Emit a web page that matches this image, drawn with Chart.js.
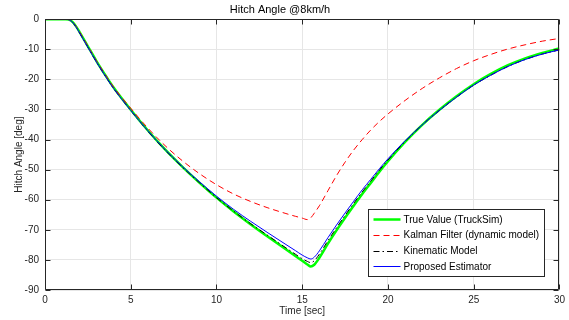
<!DOCTYPE html>
<html>
<head>
<meta charset="utf-8">
<script src="https://cdn.jsdelivr.net/npm/chart.js@4.4.1/dist/chart.umd.min.js"></script>
<style>
  html, body { margin: 0; padding: 0; background: #ffffff; }
  #wrap { width: 569px; height: 320px; }
</style>
</head>
<body>
<div id="wrap"><canvas id="c" width="569" height="320"></canvas></div>
<script>
const time = [0, 1, 1.2, 1.4, 1.6, 1.8, 2, 2.5, 3, 3.6, 4, 5, 6, 7, 8, 9, 10, 11, 12, 13, 14, 14.6, 15, 15.3, 15.5, 15.7, 16, 16.5, 17, 17.5, 18, 18.5, 19, 19.5, 20, 21, 22, 23, 24, 25, 26, 27, 28, 29, 30];
const trueValue = [0, 0, 0, -0.15, -0.9, -2.3, -4.1, -9, -13.9, -19.3, -22.7, -30.1, -37, -43.3, -49, -54.3, -59.3, -63.9, -68.2, -72.3, -76.3, -78.7, -80.3, -81.5, -82.2, -81.6, -79.3, -74.6, -70.2, -66, -62, -58.1, -54.4, -50.7, -47.2, -40.8, -35.1, -30.1, -25.6, -21.6, -18.2, -15.3, -13, -11.2, -9.7];
const kalman = [0, 0, 0, -0.15, -0.9, -2.3, -4.1, -9, -13.9, -19.2, -22.6, -29.6, -36.2, -42, -47, -51.3, -55, -58.1, -60.6, -62.7, -64.5, -65.5, -66.1, -66.6, -66, -64.5, -62, -57, -52, -47.5, -43.5, -40, -36.8, -34, -31.5, -27, -23, -19.5, -16.4, -13.8, -11.7, -9.9, -8.5, -7.3, -6.4];
const kinematic = [0, 0, 0, -0.2, -1.0, -2.5, -4.4, -9.3, -14.2, -19.6, -23, -30.3, -37.2, -43.5, -49.1, -54.3, -59.3, -63.8, -68, -71.9, -75.8, -78.1, -79.6, -80.5, -80.9, -80.3, -78.1, -73.6, -69.3, -65.2, -61.2, -57.4, -53.8, -50.2, -46.8, -40.6, -35.1, -30.3, -25.9, -21.9, -18.6, -15.7, -13.4, -11.6, -10.2];
const proposed = [0, 0, 0, -0.2, -1.0, -2.5, -4.4, -9.3, -14.2, -19.6, -23, -30.3, -37.1, -43.3, -48.9, -54, -58.8, -63.2, -67.2, -71, -74.7, -76.9, -78.4, -79.3, -79.7, -79.1, -77, -72.6, -68.4, -64.4, -60.5, -56.7, -53.2, -49.7, -46.4, -40.4, -35.1, -30.3, -25.9, -21.9, -18.6, -15.7, -13.4, -11.6, -10.2];
const seriesLabels = ['True Value (TruckSim)', 'Kalman Filter (dynamic model)', 'Kinematic Model', 'Proposed Estimator'];
const xTicks = [0, 5, 10, 15, 20, 25, 30];
const yTicks = [-90, -80, -70, -60, -50, -40, -30, -20, -10, 0];

const FONT = '"Liberation Sans", Arial, Helvetica, sans-serif';
const AXIS_COLOR = '#262626';

function pts(arr) { return time.map((t, i) => ({ x: t, y: arr[i] })); }

const matlabAxes = {
  id: 'matlabAxes',
  afterDraw(chart) {
    const { ctx, chartArea: a, scales: { x, y } } = chart;
    ctx.save();
    ctx.strokeStyle = AXIS_COLOR;
    ctx.lineWidth = 1;
    const L = Math.round(a.left) + 0.5, R = Math.round(a.right) - 0.5;
    const T = Math.round(a.top) + 0.5, B = Math.round(a.bottom) - 0.5;
    ctx.beginPath();
    ctx.rect(L, T, R - L, B - T);
    const tl = 5;
    xTicks.forEach(v => {
      const px = Math.round(x.getPixelForValue(v)) + 0.5;
      ctx.moveTo(px, B); ctx.lineTo(px, B - tl);
      ctx.moveTo(px, T); ctx.lineTo(px, T + tl);
    });
    yTicks.forEach(v => {
      const py = Math.round(y.getPixelForValue(v)) + 0.5;
      ctx.moveTo(L, py); ctx.lineTo(L + tl, py);
      ctx.moveTo(R, py); ctx.lineTo(R - tl, py);
    });
    ctx.stroke();

    // legend (MATLAB style, lower right inside axes)
    ctx.font = '10px ' + FONT;
    const ds = chart.data.datasets;
    let maxW = 0;
    ds.forEach(d => { maxW = Math.max(maxW, ctx.measureText(d.label).width); });
    const rowH = 15.7, sample = 27, gap = 3, padL = 5, padR = 5;
    const w = Math.round(padL + sample + gap + maxW + padR);
    const h = Math.round(rowH * ds.length + 4);
    const bx = Math.round(a.right - 15 - w) + 0.5;
    const by = Math.round(a.bottom - 14 - h) + 0.5;
    ctx.fillStyle = '#ffffff';
    ctx.fillRect(bx, by, w, h);
    ctx.strokeStyle = AXIS_COLOR;
    ctx.setLineDash([]);
    ctx.lineWidth = 1;
    ctx.strokeRect(bx, by, w, h);
    ds.forEach((d, i) => {
      const cy = by + 2 + rowH * (i + 0.5);
      ctx.save();
      ctx.strokeStyle = d.borderColor;
      ctx.lineWidth = d.borderWidth;
      ctx.setLineDash(d.borderDash || []);
      ctx.beginPath();
      ctx.moveTo(bx + padL, Math.round(cy) + 0.5);
      ctx.lineTo(bx + padL + sample, Math.round(cy) + 0.5);
      ctx.stroke();
      ctx.restore();
      ctx.fillStyle = '#000000';
      ctx.textBaseline = 'middle';
      ctx.textAlign = 'left';
      ctx.fillText(d.label, bx + padL + sample + gap, cy + 0.5);
    });
    ctx.restore();
  }
};

new Chart(document.getElementById('c'), {
  type: 'line',
  data: {
    datasets: [
      { label: seriesLabels[0], data: pts(trueValue), borderColor: '#00ff00', borderWidth: 2.5, order: 4 },
      { label: seriesLabels[1], data: pts(kalman), borderColor: '#ff0000', borderWidth: 1, borderDash: [6, 4], order: 3 },
      { label: seriesLabels[2], data: pts(kinematic), borderColor: '#000000', borderWidth: 1, borderDash: [6, 3, 1.5, 3], order: 2 },
      { label: seriesLabels[3], data: pts(proposed), borderColor: '#0000ff', borderWidth: 1, order: 1 }
    ]
  },
  options: {
    responsive: false,
    animation: false,
    devicePixelRatio: 1,
    layout: { padding: { left: 0, right: 9, top: 0, bottom: 0 } },
    elements: {
      point: { radius: 0 },
      line: { cubicInterpolationMode: 'monotone', fill: false }
    },
    plugins: {
      legend: { display: false },
      tooltip: { enabled: false },
      title: {
        display: true,
        text: 'Hitch Angle @8km/h',
        color: '#000000',
        font: { family: FONT, size: 11, weight: 'normal' },
        padding: { top: 3, bottom: 3 }
      }
    },
    scales: {
      x: {
        type: 'linear',
        min: 0, max: 30,
        afterBuildTicks: s => { s.ticks = xTicks.map(v => ({ value: v })); },
        afterFit: s => { s.height = 30; },
        grid: { color: '#e6e6e6', drawTicks: false },
        border: { display: false },
        ticks: { color: AXIS_COLOR, font: { family: FONT, size: 10 }, padding: 4, maxRotation: 0 },
        title: { display: true, text: 'Time [sec]', color: AXIS_COLOR, font: { family: FONT, size: 10 }, padding: { top: 0, bottom: 3 } }
      },
      y: {
        type: 'linear',
        min: -90, max: 0,
        afterBuildTicks: s => { s.ticks = yTicks.map(v => ({ value: v })); },
        afterFit: s => { s.width = 45; },
        grid: { color: '#e6e6e6', drawTicks: false },
        border: { display: false },
        ticks: { color: AXIS_COLOR, font: { family: FONT, size: 10 }, padding: 6 },
        title: { display: true, text: 'Hitch Angle [deg]', color: AXIS_COLOR, font: { family: FONT, size: 10 }, padding: { top: 13, bottom: 0 } }
      }
    }
  },
  plugins: [matlabAxes]
});
</script>
</body>
</html>
